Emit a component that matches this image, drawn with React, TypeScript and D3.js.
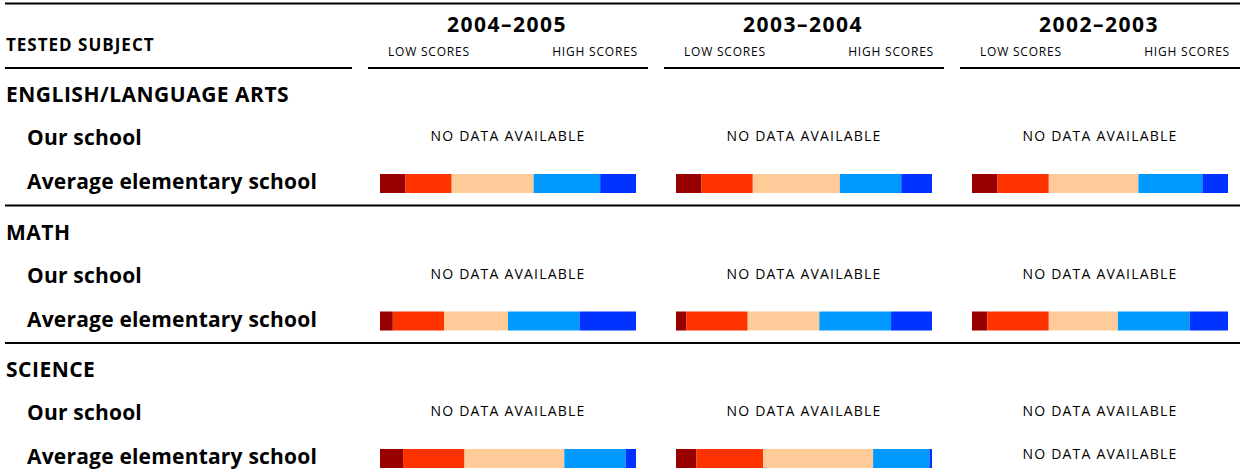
import React from 'react';
import * as d3 from 'd3';

const subjects = ['ENGLISH/LANGUAGE ARTS', 'MATH', 'SCIENCE'];
const years = ['2004–2005', '2003–2004', '2002–2003'];
const bandColors = ['#990000', '#ff3300', '#ffcc99', '#0099ff', '#0033ff'];

// share of students in each score band, low -> high; null = no data
const elaAverage = [
  [10, 18, 32, 26, 14],
  [10, 20, 34, 24, 12],
  [10, 20, 35, 25, 10],
];
const mathAverage = [
  [5, 20, 25, 28, 22],
  [4, 24, 28, 28, 16],
  [6, 24, 27, 28, 15],
];
const scienceAverage = [
  [9, 24, 39, 24, 4],
  [8, 26, 43, 22, 1],
  null,
];
const averages = [elaAverage, mathAverage, scienceAverage];

const W = 1241;
const H = 469;
const font = "'Open Sans', 'Noto Sans', sans-serif";

const App = () => {
  const colX = d3.scaleBand<number>().domain([0, 1, 2]).range([368, 1256]).paddingInner(0);
  const colW = 280;
  const pct = d3.scaleLinear().domain([0, 100]).range([0, colW - 24]);
  const sectionY = d3.scaleLinear().domain([0, 1]).range([68, 205.5]);

  return (
    <svg width={W} height={H} style={{ position: 'absolute', left: 0, top: 0 }} fontFamily={font}>
      <line x1={5} x2={1240} y1={3.5} y2={3.5} stroke="#000" strokeWidth={2} />
      <text x={6} y={51} fontSize={17} fontWeight={700} letterSpacing={1}>TESTED SUBJECT</text>
      <line x1={5} x2={352} y1={68} y2={68} stroke="#000" strokeWidth={2} />
      {years.map((yr, j) => {
        const x0 = colX(j)!;
        return (
          <g key={yr}>
            <text x={x0 + colW / 2 - 1} y={32} fontSize={21} fontWeight={700} textAnchor="middle" letterSpacing={1.5}>{yr}</text>
            <text x={x0 + 20} y={56} fontSize={12} letterSpacing={0.8}>LOW SCORES</text>
            <text x={x0 + colW - 10} y={56} fontSize={12} textAnchor="end" letterSpacing={0.8}>HIGH SCORES</text>
            <line x1={x0} x2={x0 + colW} y1={68} y2={68} stroke="#000" strokeWidth={2} />
          </g>
        );
      })}
      {subjects.map((s, i) => {
        const y0 = sectionY(i);
        return (
          <g key={s}>
            {i > 0 && <line x1={5} x2={1240} y1={y0} y2={y0} stroke="#000" strokeWidth={2} />}
            <text x={6} y={y0 + 34} fontSize={21} fontWeight={700} letterSpacing={0.5}>{s}</text>
            <text x={27} y={y0 + 77} fontSize={21} fontWeight={700} letterSpacing={0.2}>Our school</text>
            <text x={27} y={y0 + 121} fontSize={21} fontWeight={700} letterSpacing={0.2}>Average elementary school</text>
            {years.map((yr, j) => {
              const x0 = colX(j)!;
              const vals = averages[i][j];
              const noData = (yy: number) => (
                <text x={x0 + colW / 2} y={yy} fontSize={14} textAnchor="middle" letterSpacing={1.2}>NO DATA AVAILABLE</text>
              );
              let acc = 0;
              return (
                <g key={yr}>
                  {noData(y0 + 73)}
                  {vals
                    ? vals.map((v, k) => {
                        const x = x0 + 12 + pct(acc);
                        acc += v;
                        return <rect key={k} x={x} y={y0 + 106} width={pct(v)} height={19} fill={bandColors[k]} />;
                      })
                    : noData(y0 + 116)}
                </g>
              );
            })}
          </g>
        );
      })}
    </svg>
  );
};

export default App;
